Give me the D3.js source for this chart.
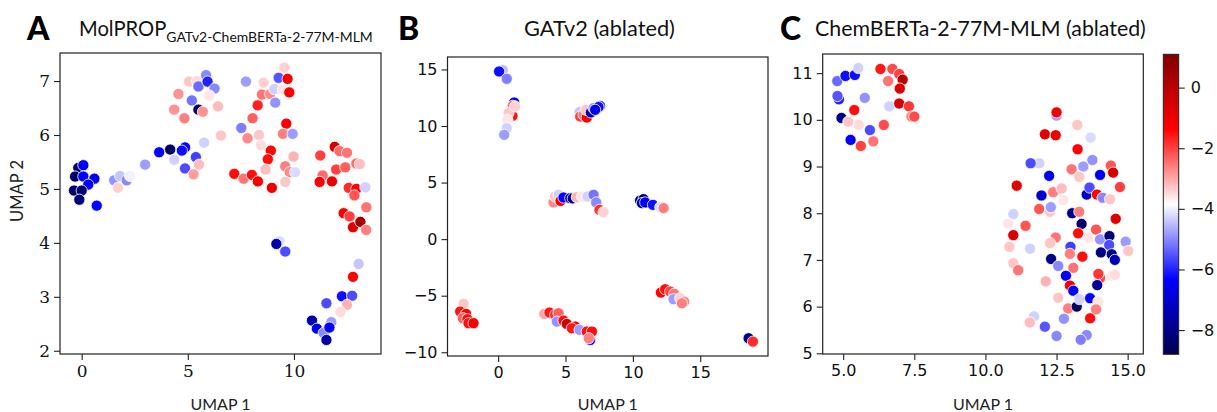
<!DOCTYPE html>
<html><head><meta charset="utf-8">
<script src="https://cdn.jsdelivr.net/npm/d3@7"></script>
<style>body{margin:0;background:#fff}svg{display:block}</style>
</head><body>
<svg id="chart" width="1217" height="412"></svg>
<script>
// ---------- DATA ----------
// Panel A: MolPROP GATv2-ChemBERTa-2-77M-MLM
const aX = [-0.16,0.08,-0.31,0.08,0.6,0.31,-0.36,0,-0.11,0.71,
 1.53,1.81,2.12,2.28,1.71,2.99,3.65,4.17,4.36,4.87,4.72,5.38,4.87,5.53,5.27,5.77,
 4.36,4.56,4.84,5.06,5.42,5.19,5.5,5.86,5.93,6.26,5.5,5.71,6.02,6.42,6.56,
 7.74,7.52,7.81,8.05,8.29,8.49,8.57,8.88,8.35,8.44,9.12,9.07,9.28,9.55,9.48,9.7,9.78,9.64,9.48,9.94,
 8.91,8.77,8.66,9.59,9.98,9.8,10.05,9.59,8.96,7.19,7.63,8.02,8.3,
 11.24,11.92,12.15,12.5,11.35,11.21,11.79,11.99,12.42,12.94,13.1,12.58,12.94,12.85,13.36,13.41,12.34,12.62,12.78,13.13,13.4,
 9.32,9.17,9.59,13.05,12.78,12.26,12.74,12.5,12.19,11.53,10.85,11.08,11.76,11.4,11.67,11.53];
const aY = [5.39,5.44,5.23,5.23,5.19,5.08,4.97,4.97,4.8,4.69,
 5.16,5.24,5.16,5.24,5.02,5.45,5.68,5.73,5.54,5.77,5.71,5.59,5.38,5.45,5.27,5.86,
 6.47,6.76,6.31,6.99,7.0,6.64,6.9,7.11,6.99,6.86,6.47,6.43,6.73,6.53,5.99,
 6.99,6.13,5.94,6.31,6.55,6.75,6.97,6.76,6.0,5.81,6.6,6.85,7.06,7.25,6.84,7.04,6.79,6.21,6.02,6.02,
 5.71,5.55,5.36,5.42,5.6,5.31,5.31,5.13,5.02,5.28,5.19,5.26,5.14,
 5.62,5.78,5.7,5.67,5.25,5.13,5.14,5.36,5.4,5.47,5.46,5.02,5.0,4.88,5.03,4.66,4.55,4.49,4.29,4.39,4.24,
 4.03,3.98,3.84,3.61,3.37,3.01,3.02,2.85,2.72,2.88,2.56,2.41,2.53,2.33,2.43,2.2];
const aV = [-8.5,-6.5,-8.5,-6.3,-6.5,-6.3,-8.5,-8.3,-8.2,-6.3,
 -4.9,-4.4,-5.0,-4.0,-3.4,-4.8,-6.3,-8.5,-4.3,-6.3,-6.2,-5.7,-5.6,-3.2,-2.9,-4.3,
 -2.8,-2.8,-2.6,-3.3,-3.5,-5.2,-5.3,-5.0,-6.0,-5.0,-8.5,-2.8,-3.6,-3.2,-3.3,
 -4.8,-5.1,-2.7,-2.3,-1.7,-2.5,-3.4,-2.7,-3.3,-3.5,-4.9,-4.3,-5.5,-3.4,-3.6,-1.2,-1.3,-1.3,-2.6,-4.8,
 -1.4,-1.5,-3.2,-2.6,-3.1,-2.7,-4.2,-3.3,-1.1,-1.5,-2.5,-1.5,-1.2,
 -2.0,-0.5,-2.4,-2.5,-2.4,-1.3,-1.0,-2.0,-2.3,-2.4,-3.2,-1.8,-1.3,-2.2,-4.3,-2.5,-1.3,-2.0,-0.8,0.4,-2.6,
 -4.2,-7.5,-5.6,-4.4,-1.4,-6.2,-5.6,-3.1,-3.5,-5.6,-7.5,-6.5,-4.8,-5.0,-6.3,-7.6];

// Panel B: GATv2 (ablated)
const bX = [0.35,0.07,0.64,
 1.19,0.89,1.09,1.06,0.77,0.69,0.64,0.45,1.26,
 6.04,6.09,6.34,6.58,6.53,6.88,7.08,7.57,7.45,7.2,
 4.11,4.23,4.48,4.63,4.85,5.35,5.54,5.84,6.21,6.63,7.08,7.28,7.52,7.82,
 10.54,10.79,10.67,10.92,11.49,12.03,12.28,
 -2.57,-2.82,-2.38,-2.62,-2.28,-2.2,-1.83,
 3.42,3.81,4.23,4.48,4.36,4.85,5.1,5.72,5.47,6.04,6.58,6.96,6.83,6.73,
 12.08,12.4,12.77,13.07,13.02,13.51,13.81,13.64,
 18.59,18.91];
const bY = [14.94,14.82,14.17,
 12.08,11.43,11.79,10.9,11.14,10.55,9.81,9.22,11.73,
 11.23,10.84,10.99,10.75,11.43,11.2,11.58,11.79,11.67,11.43,
 3.24,3.77,3.92,3.38,3.68,3.62,3.6,3.71,3.77,3.77,3.92,3.24,2.59,2.38,
 3.41,3.53,3.18,3.24,3.03,2.82,2.74,
 -5.73,-6.4,-6.61,-6.99,-7.08,-7.43,-7.43,
 -6.61,-6.49,-6.7,-6.55,-7.29,-7.2,-7.5,-7.73,-7.88,-8.02,-8.17,-8.17,-8.91,-8.76,
 -4.72,-4.43,-4.63,-4.84,-5.31,-5.22,-5.52,-5.67,
 -8.76,-9.06];
const bV = [-4.5,-6.2,-5.1,
 -6.5,-3.5,-2.4,-1.5,-3.3,-3.6,-4.3,-4.8,-3.4,
 -4.4,-2.0,-2.5,-1.3,-3.3,-7.5,-4.8,-5.5,-6.2,-6.5,
 -2.7,-3.3,-4.3,-1.3,-6.3,-7.2,-7.8,-3.1,-3.6,-4.3,-5.2,-5.0,-1.8,-3.4,
 -8.5,-8.2,-7.5,-6.5,-6.2,-4.2,-2.6,
 -3.3,-1.6,-1.4,-2.3,-1.5,-1.5,-1.2,
 -3.0,-1.6,-1.8,-2.3,-4.9,-1.5,-0.4,-1.3,-1.6,-4.8,-1.5,-1.5,-6.5,-2.6,
 -1.4,-1.5,-2.0,-2.5,-4.8,-3.4,-2.7,-2.6,
 -8.0,-1.8];

// Panel C: ChemBERTa-2-77M-MLM (ablated)
const cX = [4.79,5.08,5.41,5.53,4.85,4.8,4.94,5.18,5.39,5.55,5.76,5.26,5.62,5.94,6.06,
 6.31,6.73,6.58,6.97,7.09,6.99,6.62,6.97,6.43,7.31,7.4,7.5,
 12.5,12.5,13.23,13.7,12.09,12.47,13.24,11.89,11.59,12.24,13.03,13.44,13.3,13.76,14.03,14.41,14.49,14.73,
 11.1,11.97,12.38,12.68,12.74,11.89,12.27,12.3,13.05,13.3,13.56,13.66,13.92,14.12,14.38,14.58,
 10.98,10.8,11.41,10.98,10.84,11.57,10.98,11.15,
 13.38,13.26,13.62,13.89,12.47,12.27,12.99,12.31,12.97,13.41,12.56,13.09,
 14.03,14.36,14.35,14.06,14.44,14.55,14.93,15.02,
 12.83,14.03,13.97,14.44,14.55,12.12,12.97,13.09,13.93,
 12.56,12.91,13.21,13.3,13.68,13.97,13.89,13.68,
 11.71,11.56,12.09,12.76,12.5,13.56,13.35];
const cY = [10.83,10.94,10.96,11.11,10.44,10.51,10.04,9.96,10.21,9.89,10.47,9.57,9.44,9.78,9.54,
 11.09,11.09,10.83,10.98,10.86,10.67,10.29,10.35,9.89,10.29,10.07,10.07,
 10.09,10.16,9.89,9.62,9.69,9.67,9.37,9.07,9.07,8.8,8.94,9.0,8.78,9.14,8.82,9.02,8.87,8.56,
 8.59,8.38,8.45,8.53,8.28,8.09,8.03,8.13,8.0,8.03,8.4,8.55,8.4,8.33,8.3,7.88,
 7.98,7.78,7.73,7.53,7.28,7.24,6.93,6.78,
 7.77,7.57,7.48,7.65,7.48,7.36,7.28,7.02,7.13,7.07,6.87,6.83,
 7.44,7.51,7.32,7.16,7.12,7.0,7.39,7.19,
 6.66,6.61,6.7,6.66,6.68,6.54,6.45,6.34,6.46,
 6.19,5.96,6.0,6.16,6.18,6.11,5.94,5.75,
 5.79,5.66,5.57,5.74,5.37,5.39,5.29];
const cV = [-5.3,-6.2,-6.2,-4.3,-6.0,-5.5,-7.8,-3.3,-1.5,-3.5,-4.9,-6.4,-2.0,-5.6,-2.5,
 -1.6,-2.1,-2.5,-2.0,0.0,-0.7,-4.3,-0.6,-2.1,-1.9,-2.6,-2.1,
 -4.8,-1.2,-3.3,-4.2,-0.8,-1.0,-1.4,-4.3,-5.6,-6.4,-2.5,-4.8,-3.3,-4.9,-6.4,-2.2,-0.6,-2.0,
 -0.8,-7.0,-2.6,-3.2,-3.6,-2.2,-3.3,-4.8,-8.0,-2.6,-7.2,-5.6,-1.4,-5.0,-3.3,-0.7,
 -4.3,-3.6,-2.2,-0.7,-3.3,-4.3,-3.3,-2.5,
 -8.3,-1.5,-3.6,-2.2,-2.5,-3.3,-5.7,-8.0,-2.6,-1.5,-5.0,-2.5,
 -4.9,-8.2,-5.6,-8.0,-8.0,-7.3,-4.8,-3.3,
 -6.5,-2.1,-1.9,-3.6,-3.5,-3.1,-1.2,-6.3,-7.8,
 -3.3,-2.6,-8.5,-4.3,-6.3,-3.6,-2.6,-1.5,
 -4.3,-3.2,-5.5,-4.9,-5.0,-5.0,-5.1];

// axis extents and ticks
const aXDomain = [-1.02, 14.1], aYDomain = [1.94, 7.52];
const bXDomain = [-3.76, 20.03], bYDomain = [-10.33, 16.1];
const cXDomain = [4.28, 15.55], cYDomain = [4.985, 11.41];
const aXTicks = [0, 5, 10], aYTicks = [2, 3, 4, 5, 6, 7];
const bXTicks = [0, 5, 10, 15], bYTicks = [-10, -5, 0, 5, 10, 15];
const cXTicks = [5.0, 7.5, 10.0, 12.5, 15.0], cYTicks = [5, 6, 7, 8, 9, 10, 11];
const colorDomain = [-8.8, 1.1];
const colorTicks = [0, -2, -4, -6, -8];
const panelLetters = ["A", "B", "C"];
const titles = ["MolPROP", "GATv2 (ablated)", "ChemBERTa-2-77M-MLM (ablated)"];
const titleSub = "GATv2-ChemBERTa-2-77M-MLM";
const xLabel = "UMAP 1", yLabel = "UMAP 2";

// ---------- DRAW ----------
const svg = d3.select("#chart");
const minus = s => String(s).replace("-", "\u2212");

// seismic colormap
const [vmin, vmax] = colorDomain;
const stops = [0, 0.25, 0.5, 0.75, 1].map(t => vmin + t * (vmax - vmin));
const color = d3.scaleLinear().domain(stops)
  .range(["rgb(0,0,77)", "rgb(0,0,255)", "rgb(255,255,255)", "rgb(255,0,0)", "rgb(128,0,0)"])
  .clamp(true);

const LABEL_FONT = "Lato, 'Open Sans', sans-serif";

function fitText(sel, width) {
  const node = sel.node();
  const w = node.getComputedTextLength();
  const fs = parseFloat(sel.attr("font-size"));
  sel.attr("font-size", fs * width / w);
}

function panel(cfg) {
  const x = d3.scaleLinear().domain(cfg.xd).range([cfg.l, cfg.r]);
  const y = d3.scaleLinear().domain(cfg.yd).range([cfg.b, cfg.t]);
  const g = svg.append("g");
  const tickFont = cfg.serif ? "'DejaVu Serif', serif" : "'DejaVu Sans', sans-serif";
  const tickSize = cfg.serif ? 17 : 16;

  const xa = g.append("g").attr("transform", `translate(0,${cfg.b})`)
    .call(d3.axisBottom(x).tickValues(cfg.xt).tickSize(6).tickPadding(5)
      .tickFormat(d => minus(cfg.xfmt ? d3.format(cfg.xfmt)(d) : d)));
  const ya = g.append("g").attr("transform", `translate(${cfg.l},0)`)
    .call(d3.axisLeft(y).tickValues(cfg.yt).tickSize(6).tickPadding(4)
      .tickFormat(d => minus(d)));
  [xa, ya].forEach(a => {
    a.select(".domain").remove();
    a.selectAll("line").attr("stroke", "#222").attr("stroke-width", 1.1);
    a.selectAll("text").attr("font-family", tickFont).attr("font-size", tickSize).attr("fill", "#111");
  });

  g.append("g").selectAll("circle")
    .data(cfg.xs.map((d, i) => ({x: d, y: cfg.ys[i], v: cfg.vs[i]})))
    .join("circle")
    .attr("cx", d => x(d.x)).attr("cy", d => y(d.y)).attr("r", 5.6)
    .attr("fill", d => color(d.v))
    .attr("stroke", "#fff").attr("stroke-width", 0.8);

  g.append("rect").attr("x", cfg.l).attr("y", cfg.t)
    .attr("width", cfg.r - cfg.l).attr("height", cfg.b - cfg.t)
    .attr("fill", "none").attr("stroke", "#222").attr("stroke-width", 1.2);

  const xl = g.append("text").attr("x", (cfg.l + cfg.r) / 2).attr("y", 410)
    .attr("text-anchor", "middle").attr("font-family", LABEL_FONT).attr("font-size", 17)
    .attr("fill", "#222").text(xLabel);
  fitText(xl, 60);
  return {x, y, g};
}

panel({l: 60, r: 381, t: 53, b: 354, xd: aXDomain, yd: aYDomain, xt: aXTicks, yt: aYTicks,
  xs: aX, ys: aY, vs: aV, serif: true});
panel({l: 447.5, r: 768, t: 57, b: 356, xd: bXDomain, yd: bYDomain, xt: bXTicks, yt: bYTicks,
  xs: bX, ys: bY, vs: bV});
panel({l: 822.7, r: 1143.3, t: 54, b: 354, xd: cXDomain, yd: cYDomain, xt: cXTicks, yt: cYTicks,
  xs: cX, ys: cY, vs: cV, xfmt: ".1f"});

// y label for A
const yl = svg.append("text").attr("transform", "translate(23,191) rotate(-90)")
  .attr("text-anchor", "middle").attr("font-family", LABEL_FONT).attr("font-size", 17)
  .attr("fill", "#222").text(yLabel);
fitText(yl, 62);

// panel letters
[[27, 40], [398, 40], [780, 40]].forEach((p, i) => {
  svg.append("text").attr("x", p[0]).attr("y", p[1])
    .attr("font-family", LABEL_FONT).attr("font-weight", 900).attr("font-size", 32)
    .attr("fill", "#000").text(panelLetters[i]);
});

// titles
const tA = svg.append("text").attr("x", 79).attr("y", 36)
  .attr("font-family", LABEL_FONT).attr("font-size", 21).attr("fill", "#111");
tA.append("tspan").text(titles[0]);
tA.append("tspan").attr("font-size", 14.5).attr("dy", 5.5).text(titleSub);
{
  const w = tA.node().getComputedTextLength();
  const target = 373 - 79;
  tA.attr("font-size", 21 * target / w);
  tA.select("tspan:nth-child(2)").attr("font-size", 14.5 * target / w);
}
const tB = svg.append("text").attr("x", 524).attr("y", 36)
  .attr("font-family", LABEL_FONT).attr("font-size", 21).attr("fill", "#111").text(titles[1]);
fitText(tB, 151);
const tC = svg.append("text").attr("x", 815).attr("y", 36)
  .attr("font-family", LABEL_FONT).attr("font-size", 21).attr("fill", "#111").text(titles[2]);
fitText(tC, 331);

// colorbar
const cb = {l: 1163.3, r: 1178.7, t: 54.3, b: 354.3};
const defs = svg.append("defs");
const grad = defs.append("linearGradient").attr("id", "cbgrad")
  .attr("x1", 0).attr("y1", 1).attr("x2", 0).attr("y2", 0);
d3.range(0, 1.0001, 0.05).forEach(t => {
  grad.append("stop").attr("offset", t).attr("stop-color", color(vmin + t * (vmax - vmin)));
});
svg.append("rect").attr("x", cb.l).attr("y", cb.t).attr("width", cb.r - cb.l).attr("height", cb.b - cb.t)
  .attr("fill", "url(#cbgrad)").attr("stroke", "#222").attr("stroke-width", 1);
const cScale = d3.scaleLinear().domain(colorDomain).range([cb.b, cb.t]);
const ca = svg.append("g").attr("transform", `translate(${cb.r},0)`)
  .call(d3.axisRight(cScale).tickValues(colorTicks).tickSize(6).tickPadding(6).tickFormat(d => minus(d)));
ca.select(".domain").remove();
ca.selectAll("line").attr("stroke", "#222").attr("stroke-width", 1.1);
ca.selectAll("text").attr("font-family", "'DejaVu Sans', sans-serif").attr("font-size", 16).attr("fill", "#111");
</script>
</body></html>
